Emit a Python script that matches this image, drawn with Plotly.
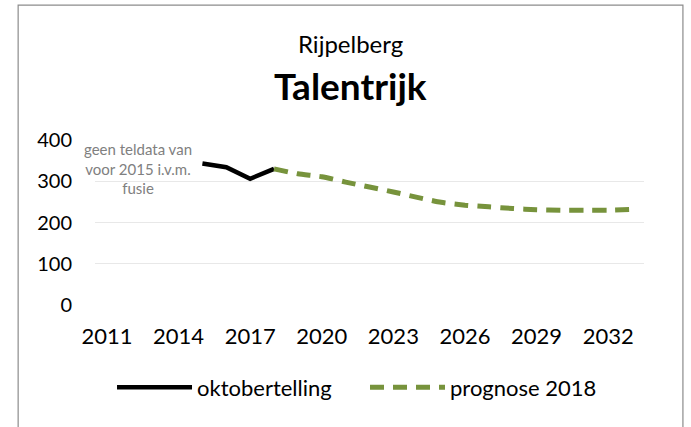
"""Talentrijk (Rijpelberg): oktobertelling en prognose 2018"""

import plotly.graph_objects as go

YEARS = [str(y) for y in range(2011, 2034)]
TICK_YEARS = ["2011", "2014", "2017", "2020", "2023", "2026", "2029", "2032"]

# oktobertelling: no data before 2015 (fusie)
OKTOBER = [None, None, None, None, 343, 334, 306, 330,
           None, None, None, None, None, None, None, None,
           None, None, None, None, None, None, None]

# prognose 2018 starts at the 2018 count
PROGNOSE = [None, None, None, None, None, None, None, 330,
            318, 311, 298, 286, 274, 261, 249, 242,
            238, 234, 231, 230, 230, 230, 232]

FONT = "Lato"
GREEN = "#77933C"

fig = go.Figure()

fig.add_trace(go.Scatter(
    x=YEARS, y=OKTOBER, mode="lines", name="oktobertelling",
    line=dict(color="black", width=4.5),
))
fig.add_trace(go.Scatter(
    x=YEARS, y=PROGNOSE, mode="lines", name="prognose 2018",
    line=dict(color=GREEN, width=5, dash="14px,9px", shape="spline", smoothing=0.6),
))

fig.update_xaxes(
    type="category", categoryorder="array", categoryarray=YEARS,
    range=[-0.5, len(YEARS) - 0.5], tickvals=TICK_YEARS,
    showgrid=False, zeroline=False, showline=False, ticks="",
    ticklabelstandoff=16, automargin=False,
    tickfont=dict(family=FONT, size=22, color="black"),
)
fig.update_yaxes(
    range=[0, 400], dtick=100, gridcolor="#e8e8e8", gridwidth=1,
    zeroline=False, showline=False, ticks="", ticklabelstandoff=22, automargin=False,
    tickfont=dict(family=FONT, size=20, color="black"),
)

annotations = [
    dict(xref="paper", yref="paper", x=0.4655, y=1.582, text="Rijpelberg",
         showarrow=False, xanchor="center", yanchor="middle",
         font=dict(family=FONT, size=24, color="black")),
    dict(xref="paper", yref="paper", x=0.4655, y=1.333, text="<b>Talentrijk</b>",
         showarrow=False, xanchor="center", yanchor="middle",
         font=dict(family=FONT, size=37, color="black")),
    dict(xref="x", yref="y", x=1.3, y=330,
         text="geen teldata van<br>voor 2015 i.v.m.<br>fusie",
         showarrow=False, xanchor="center", yanchor="middle", align="center",
         font=dict(family=FONT, size=15, color="#808080")),
]

# chart frame
shapes = [
    dict(type="rect", xref="paper", yref="paper",
         x0=-0.14, x1=1.0709, y0=-0.77, y1=1.818,
         line=dict(color="#8c8c8c", width=1.2), fillcolor="rgba(0,0,0,0)"),
]

fig.update_layout(
    width=691, height=427,
    margin=dict(l=95, r=47, t=140, b=122),
    paper_bgcolor="white", plot_bgcolor="white",
    showlegend=True,
    legend=dict(orientation="h", x=0.031, xanchor="left", y=-0.5, yanchor="middle",
                font=dict(family=FONT, size=22, color="black"),
                itemwidth=75, entrywidth=163, entrywidthmode="pixels",
                tracegroupgap=0),
    annotations=annotations,
    shapes=shapes,
)

fig.write_html("out.html", config={"displayModeBar": False},
               post_script="document.body.style.margin = '0';")
